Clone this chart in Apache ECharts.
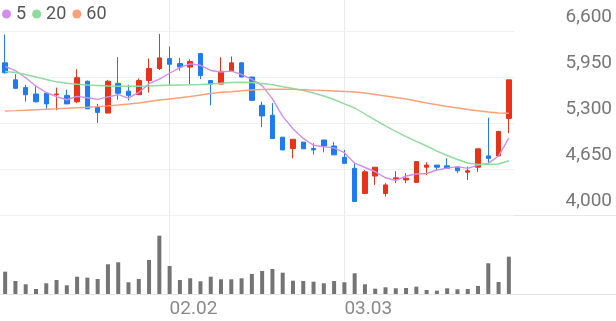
<!DOCTYPE html>
<html>
<head>
<meta charset="utf-8">
<script src="https://cdn.jsdelivr.net/npm/echarts@6/dist/echarts.min.js"></script>
<style>
html,body{margin:0;padding:0;background:#fff;}
#chart{width:616px;height:321px;}
</style>
</head>
<body>
<div id="chart"></div>
<script>
// Trading dates (2026, MM.DD)
var dates = ['01.09','01.12','01.13','01.14','01.15','01.16','01.19','01.20','01.21','01.22',
  '01.23','01.26','01.27','01.28','01.29','01.30','02.02','02.03','02.04','02.05',
  '02.06','02.09','02.10','02.11','02.12','02.13','02.19','02.20','02.23','02.24',
  '02.25','02.26','02.27','03.03','03.04','03.05','03.06','03.09','03.10','03.11',
  '03.12','03.13','03.16','03.17','03.18','03.19','03.20','03.23','03.24','03.25'];

// Daily prices
var opens  = [6150,5910,5800,5710,5720,5700,5690,5600,5890,5530,
              5440,5860,5750,5700,5900,6070,6210,6140,6090,6280,
              5900,5850,6030,6150,5950,5550,5410,5100,4940,5030,
              4940,5060,4975,4815,4660,4305,4550,4305,4510,4495,
              4460,4675,4705,4695,4675,4605,4675,4835,4835,5365];
var closes = [6010,5790,5700,5600,5570,5710,5570,5940,5500,5450,
              5890,5720,5690,5900,6070,6220,6130,6090,6170,5970,
              5850,6030,6150,5950,5620,5400,5080,4920,5070,4935,
              4920,4975,4850,4730,4190,4610,4675,4425,4525,4520,
              4755,4705,4675,4660,4625,4625,4935,4800,5180,5910];
var lows   = [6000,5780,5600,5590,5500,5480,5570,5580,5500,5300,
              5440,5630,5620,5700,5730,6050,5840,6040,5850,5920,
              5550,5850,6030,5950,5610,5240,5080,4915,4800,4935,
              4855,4885,4850,4730,4190,4305,4425,4260,4450,4450,
              4460,4565,4620,4660,4590,4495,4610,4720,4835,5155];
var highs  = [6550,5990,5840,5820,5730,5800,5770,6060,5900,5570,
              5910,6230,5840,5930,6210,6560,6380,6220,6200,6290,
              5900,6230,6240,6160,5950,5600,5580,5100,5070,5030,
              5015,5060,5030,4920,4730,4635,4675,4450,4620,4590,
              4755,4745,4705,4800,4675,4685,4935,5375,5190,5910];

// Moving averages as drawn
var ma5  = [6100,6040,5940,5820,5731,5672,5629,5676,5657,5633,
            5669,5700,5651,5732,5855,5921,6003,6082,6136,6116,
            6042,6020,6033,5988,5917,5828,5640,5393,5218,5082,
            4985,4963,4949,4881,4732,4671,4611,4526,4485,4551,
            4579,4586,4636,4663,4684,4659,4704,4729,4833,5089];
var ma20 = [6028,6014,5985,5950,5915,5882,5861,5847,5837,5830,
            5823,5819,5819,5819,5823,5830,5834,5837,5840,5844,
            5851,5861,5872,5875,5872,5858,5840,5812,5787,5759,
            5724,5682,5632,5569,5512,5427,5342,5258,5180,5109,
            5039,4975,4904,4841,4784,4735,4716,4714,4721,4767];
var ma60 = [5470,5475,5481,5488,5495,5501,5508,5515,5523,5532,
            5542,5554,5568,5583,5604,5625,5639,5656,5674,5696,
            5717,5734,5742,5756,5766,5773,5776,5776,5775,5770,
            5765,5759,5752,5745,5738,5724,5703,5682,5661,5639,
            5611,5583,5557,5533,5512,5491,5474,5455,5441,5437];

// Volume (thousand shares)
var volumes = [558,325,243,125,268,350,218,433,408,375,
               743,793,293,375,850,1458,700,350,393,318,
               433,368,368,393,500,575,625,533,333,325,
               308,268,325,293,518,243,133,168,143,150,
               183,100,83,143,118,125,200,768,300,933];

var xTickLabels = ['02.02','03.03'];
var yTicks = {min: 4000, max: 6600, interval: 650};

var kData = dates.map(function (d, i) { return [opens[i], closes[i], lows[i], highs[i]]; });
var showTick = function (idx, val) { return xTickLabels.indexOf(val) >= 0; };

var UP = '#e8321a', DOWN = '#1f7bf0';
var chart = echarts.init(document.getElementById('chart'), null, {renderer: 'canvas'});
chart.setOption({
  animation: false,
  backgroundColor: '#fff',
  legend: {
    data: ['5', '20', '60'],
    left: -3, top: 0,
    icon: 'circle', itemWidth: 9, itemHeight: 9, itemGap: 6,
    selectedMode: false,
    textStyle: {color: '#555', fontSize: 18, fontFamily: 'Roboto'}
  },
  grid: [
    {left: 0, top: 31, width: 514, height: 184},
    {left: 0, top: 215, width: 514, height: 79},
    {left: 0, top: 0, width: 514, height: 294}
  ],
  xAxis: [
    {type: 'category', data: dates, gridIndex: 0, boundaryGap: true,
     axisLine: {show: false}, axisTick: {show: false}, axisLabel: {show: false}, splitLine: {show: false}},
    {type: 'category', data: dates, gridIndex: 1, boundaryGap: true,
     axisLine: {show: false}, axisTick: {show: false}, splitLine: {show: false},
     axisLabel: {show: true, interval: showTick, align: 'left', color: '#8a8a8a', fontSize: 19, fontFamily: 'Roboto', margin: 6}},
    {type: 'category', data: dates, gridIndex: 2, boundaryGap: true,
     axisLine: {show: false}, axisTick: {show: false}, axisLabel: {show: false},
     splitLine: {show: true, interval: showTick, alignWithLabel: true, lineStyle: {color: '#ececec', width: 1}}}
  ],
  yAxis: [
    {type: 'value', gridIndex: 0, position: 'right', min: yTicks.min, max: yTicks.max, interval: yTicks.interval,
     axisLine: {show: false}, axisTick: {show: false},
     splitLine: {show: true, lineStyle: {color: '#f0f0f0', width: 1}},
     axisLabel: {align: 'right', margin: 98, verticalAlign: 'bottom', padding: [0, 0, 4, 0],
       color: '#777', fontSize: 19, fontFamily: 'Roboto',
       formatter: function (v) { return v.toLocaleString('en-US'); }}},
    {type: 'value', gridIndex: 1, min: 0, max: 1975, show: false},
    {type: 'value', gridIndex: 2, min: 0, max: 1, show: false}
  ],
  graphic: [
    {type: 'line', shape: {x1: 0, y1: 215.5, x2: 616, y2: 215.5}, style: {stroke: '#e6e6e6', lineWidth: 1}, z: 0},
    {type: 'line', shape: {x1: 0, y1: 294.5, x2: 616, y2: 294.5}, style: {stroke: '#e6e6e6', lineWidth: 1}, z: 0}
  ],
  series: [
    {type: 'candlestick', name: 'price', xAxisIndex: 0, yAxisIndex: 0, data: kData,
     barWidth: 5,
     itemStyle: {color: UP, color0: DOWN, borderColor: UP, borderColor0: DOWN, borderWidth: 1}},
    {type: 'line', name: '5', data: ma5, xAxisIndex: 0, yAxisIndex: 0, showSymbol: false, symbol: 'circle',
     itemStyle: {color: '#cf8ef0'}, lineStyle: {color: '#cf8ef0', width: 1.4}, z: 3},
    {type: 'line', name: '20', data: ma20, xAxisIndex: 0, yAxisIndex: 0, showSymbol: false, symbol: 'circle',
     itemStyle: {color: '#8edb9d'}, lineStyle: {color: '#8edb9d', width: 1.4}, z: 3},
    {type: 'line', name: '60', data: ma60, xAxisIndex: 0, yAxisIndex: 0, showSymbol: false, symbol: 'circle',
     itemStyle: {color: '#f9a27a'}, lineStyle: {color: '#f9a27a', width: 1.4}, z: 3},
    {type: 'bar', name: 'volume', data: volumes, xAxisIndex: 1, yAxisIndex: 1, barWidth: 4,
     itemStyle: {color: '#747474'}}
  ]
});
</script>
</body>
</html>
